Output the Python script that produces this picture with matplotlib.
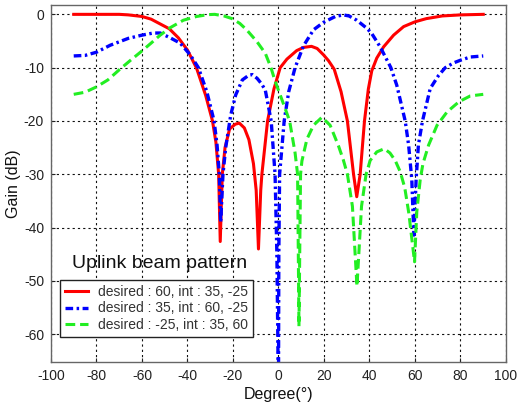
import matplotlib
matplotlib.use("Agg")
import matplotlib.pyplot as plt

plt.rcParams["font.family"] = ["Liberation Sans", "DejaVu Sans"]
plt.rcParams["lines.scale_dashes"] = False
plt.rcParams["axes.unicode_minus"] = False

# Beam pattern samples (angle in degrees, gain in dB)
red_deg = [-90, -80, -70, -66, -60, -56, -52, -48, -44, -40, -36, -32, -29, -27.5,
           -26.3, -25.6, -24.7, -23.5, -21.5, -19, -17.2, -15, -13, -11, -9.8, -8.8,
           -7.8, -7.3, -4.8, -2, 0.75, 3.7, 8, 11, 14.5, 17, 19.8, 22, 24.5, 27.5,
           30.3, 33, 34.4, 35.9, 37.8, 39.5, 41, 43.2, 46.2, 50.6, 55, 60, 65, 72, 80, 90]
red_gain = [0, 0, 0, -0.1, -0.4, -0.9, -1.8, -2.7, -4.4, -6.7, -10.1, -15.2, -20, -24,
            -30, -42.6, -30, -25, -21.5, -20.6, -20.4, -21.3, -23.5, -28, -33, -44,
            -33, -30, -20, -14, -10, -8.4, -6.8, -6.2, -6.0, -6.4, -7.6, -8.7, -10.3, -14.5,
            -20, -30, -34.2, -30, -20, -14, -10.6, -8.2, -6.1, -3.9, -2.3, -1.4, -0.8, -0.3, -0.1, 0]

blue_deg = [-90, -85, -80, -74, -66, -60, -55, -52, -47.6, -43.2, -38.8, -35.2, -31.5,
            -28.3, -27, -26, -25.4, -24.4, -23.2, -21, -18.8, -15.9, -13, -11.5, -9.4,
            -7.5, -5.8, -3.2, -1.5, -0.7, 0, 0.15, 0.5, 2.5, 4.5, 7.3, 11, 15.4, 19.8,
            25, 28.5, 31, 34.4, 38.8, 41, 44.7, 49.4, 52, 55.7, 57.2, 58.6, 59.5, 60.5,
            61.5, 63.3, 66.7, 70.3, 73.3, 77, 80, 84.3, 90]
blue_gain = [-7.8, -7.7, -7.1, -5.8, -4.5, -3.9, -3.5, -3.5, -4.4, -5.4, -7.6, -10, -14.5,
             -20, -24.5, -30, -39, -30, -25, -18.9, -15.1, -12.3, -11.4, -11.3, -12,
             -13, -14.2, -20, -30, -45, -72, -45, -30, -20, -14.5, -10, -5.9, -2.9, -1.5,
             -0.4, -0.1, -0.3, -1.1, -2.6, -3.6, -6.1, -10, -13.3, -20, -24.5, -31, -41.4, -31,
             -24.5, -20, -13.9, -11.5, -10, -9.1, -8.6, -8.0, -7.8]

green_deg = [-90, -85, -80, -75, -70, -65, -60.4, -56, -52, -47.6, -41.8, -36, -31, -28,
             -24, -20.4, -17, -14, -9.5, -5.8, -3.3, -1.5, 2.2, 4.9, 7.3, 8.4, 9, 9.7,
             10.3, 12.5, 15.4, 19.1, 22.7, 26.4, 28.5, 30.3, 32.5, 34.5, 36.5, 38.5, 40.3,
             43.2, 46.5, 49, 51.3, 53.5, 55.5, 57.3, 59.8, 60.8, 62.3, 63.5, 66, 69.7, 74.1, 79.3,
             84.3, 90]
green_gain = [-15, -14.6, -13.6, -12.3, -10.4, -8.6, -7.0, -5.4, -3.9, -2.5, -1.1, -0.4, -0.05, 0,
              -0.3, -0.8, -1.7, -2.9, -5.1, -7.3, -10, -12.5, -16.8, -20, -26, -30, -58.5, -30,
              -27.5, -23.4, -20.8, -19.3, -20.8, -24.7, -27.3, -30, -36, -51, -36, -30, -27.4,
              -25.8, -25.2, -26, -27.4, -29.5, -32.5, -37.3, -46.4, -37, -31, -28, -24.5, -20.8, -18.3, -16.4,
              -15.3, -15]

series_labels = ["desired : 60, int : 35, -25",
                 "desired : 35, int : 60, -25",
                 "desired : -25, int : 35, 60"]

x_ticks = list(range(-100, 101, 20))
y_ticks = list(range(-60, 1, 10))

fig = plt.figure(figsize=(5.17, 4.08), dpi=100)
ax = fig.add_axes([0.0986, 0.1127, 0.8801, 0.875])

ax.plot(red_deg, red_gain, color="#ff0000", lw=2.2, label=series_labels[0])
ax.plot(blue_deg, blue_gain, color="#0000ff", lw=2.4, dashes=(5.5, 2.5, 1.8, 2.5),
        label=series_labels[1])
ax.plot(green_deg, green_gain, color="#22ee22", lw=2.2, dashes=(7, 3.5),
        label=series_labels[2])

ax.set_xlim(-100, 100)
ax.set_ylim(-65.2, 1.75)
ax.set_xticks(x_ticks)
ax.set_yticks(y_ticks)
ax.tick_params(direction="in", length=3, labelsize=10, colors="#222222", pad=5)
ax.grid(True, color="#111111", lw=0.8, linestyle=(0, (1.6, 2.2)))
for s in ax.spines.values():
    s.set_color("#666666")
    s.set_linewidth(1.0)

ax.set_xlabel("Degree(°)", fontsize=11.5, color="#111111", labelpad=3)
ax.set_ylabel("Gain (dB)", fontsize=11.5, color="#111111", labelpad=2)

ax.text(0.046, 0.277, "Uplink beam pattern", transform=ax.transAxes,
        fontsize=14, ha="left", va="center", color="#111111")

leg = ax.legend(loc="lower left", bbox_to_anchor=(0.0198, 0.070), borderaxespad=0,
                fontsize=10, handlelength=1.65, handletextpad=0.72, labelspacing=0.2,
                borderpad=0.35, fancybox=False, framealpha=1)
leg.get_frame().set_edgecolor("#222222")
leg.get_frame().set_linewidth(1.0)
for t in leg.get_texts():
    t.set_color("#333333")

fig.savefig("out.png", dpi=100)
